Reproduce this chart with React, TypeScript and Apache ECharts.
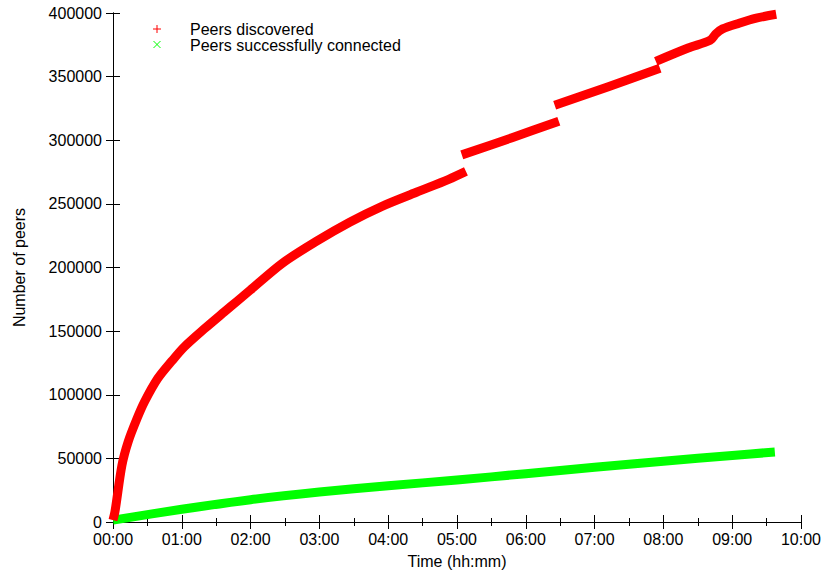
import React, { useEffect, useRef } from "react";
import * as echarts from "echarts";

// Time in hours since start; peers discovered (null entries mark the jumps in the trace)
const discoveredHours = [
  0.0, 0.03, 0.13, 0.22, 0.35, 0.46, 0.65, 0.86, 1.04, 1.33, 1.62, 1.81, 1.99, 2.46, 2.96, 3.44, 3.91, 4.41, 4.88, 5.13,
  5.1,
  5.07, 5.8, 6.48,
  6.45,
  6.42, 7.2, 7.95,
  7.92,
  7.89, 8.36, 8.68, 8.76, 8.86, 9.1, 9.35, 9.64,
];
const discoveredPeers: (number | null)[] = [
  1500, 8600, 44600, 63000, 81400, 94700, 112700, 126800, 137800, 151900, 165200, 173800, 182000, 203300, 220700, 235600, 248100, 259100, 269300, 275500,
  null,
  288500, 302000, 315000,
  null,
  327500, 342000, 356500,
  null,
  362000, 372500, 378500, 383500, 387500, 392000, 396000, 399000,
];

const connectedHours = [0.0, 1, 2, 3, 4, 5, 6, 7, 8, 9, 9.62];
const connectedPeers = [1500, 10000, 17500, 23500, 28500, 33000, 38000, 43000, 47800, 52300, 55000];

const xTickHours = [0, 1, 2, 3, 4, 5, 6, 7, 8, 9, 10];
const yTicks = [0, 50000, 100000, 150000, 200000, 250000, 300000, 350000, 400000];

const seriesNames = ["Peers discovered", "Peers successfully connected"];
const RED = "#ff0000";
const GREEN = "#00ff00";
const FONT = "Liberation Sans, Arial, Helvetica, sans-serif";

const fmtHour = (v: number) => (v < 10 ? "0" : "") + v + ":00";

export default function App() {
  const ref = useRef<HTMLDivElement>(null);
  useEffect(() => {
    if (!ref.current) return;
    const chart = echarts.init(ref.current, undefined, { renderer: "svg" });
    const discovered = discoveredHours.map((h, i) => [h, discoveredPeers[i] === null ? "-" : discoveredPeers[i]]);
    const connected = connectedHours.map((h, i) => [h, connectedPeers[i]]);
    const axisCommon = {
      axisLine: { show: true, lineStyle: { color: "#000", width: 1 } },
      splitLine: { show: false },
    };
    const xMin = xTickHours[0];
    const xMax = xTickHours[xTickHours.length - 1];
    const yMin = yTicks[0];
    const yMax = yTicks[yTicks.length - 1];
    chart.setOption({
      animation: false,
      backgroundColor: "#fff",
      textStyle: { fontFamily: FONT },
      grid: { left: 113, right: 21, top: 13, bottom: 50, containLabel: false },
      xAxis: [
        {
          type: "value",
          min: xMin,
          max: xMax,
          interval: 1,
          position: "bottom",
          ...axisCommon,
          axisTick: { show: true, inside: true, length: 7, lineStyle: { color: "#000" } },
          minorTick: { show: true, splitNumber: 2, length: 4, lineStyle: { color: "#000" } },
          axisLabel: { color: "#000", fontSize: 16, fontFamily: FONT, margin: 9, formatter: fmtHour },
          name: "Time (hh:mm)",
          nameLocation: "middle",
          nameGap: 31,
          nameTextStyle: { color: "#000", fontSize: 16, fontFamily: FONT },
        },
        {
          type: "value",
          min: xMin,
          max: xMax,
          interval: 1,
          position: "top",
          ...axisCommon,
          axisTick: { show: true, inside: true, length: 7, lineStyle: { color: "#000" } },
          minorTick: { show: true, splitNumber: 2, length: 4, lineStyle: { color: "#000" } },
          axisLabel: { show: false },
        },
      ],
      yAxis: [
        {
          type: "value",
          min: yMin,
          max: yMax,
          interval: 50000,
          position: "left",
          ...axisCommon,
          axisTick: { show: true, inside: true, length: 7, lineStyle: { color: "#000" } },
          axisLabel: { color: "#000", fontSize: 16, fontFamily: FONT, margin: 11, formatter: (v: number) => String(v) },
          name: "Number of peers",
          nameLocation: "middle",
          nameGap: 86,
          nameRotate: 90,
          nameTextStyle: { color: "#000", fontSize: 16, fontFamily: FONT },
        },
        {
          type: "value",
          min: yMin,
          max: yMax,
          interval: 50000,
          position: "right",
          ...axisCommon,
          axisTick: { show: true, inside: true, length: 7, lineStyle: { color: "#000" } },
          axisLabel: { show: false },
        },
      ],
      series: [
        {
          name: seriesNames[0],
          type: "line",
          xAxisIndex: 0,
          yAxisIndex: 0,
          data: discovered,
          showSymbol: false,
          symbol: "none",
          connectNulls: false,
          smooth: 0.3,
          lineStyle: { color: RED, width: 9, cap: "butt", join: "round" },
          itemStyle: { color: RED },
          z: 3,
        },
        {
          name: seriesNames[1],
          type: "line",
          xAxisIndex: 0,
          yAxisIndex: 0,
          data: connected,
          showSymbol: false,
          symbol: "none",
          smooth: 0.3,
          lineStyle: { color: GREEN, width: 9, cap: "butt", join: "round" },
          itemStyle: { color: GREEN },
          z: 2,
        },
      ],
      graphic: [
        { type: "line", shape: { x1: 153, y1: 29, x2: 161, y2: 29 }, style: { stroke: RED, lineWidth: 1 } },
        { type: "line", shape: { x1: 157, y1: 25, x2: 157, y2: 33 }, style: { stroke: RED, lineWidth: 1 } },
        { type: "text", x: 190, y: 29, style: { text: seriesNames[0], fill: "#000", font: `16px ${FONT}`, textVerticalAlign: "middle", verticalAlign: "middle" } },
        { type: "line", shape: { x1: 153.5, y1: 41, x2: 160.5, y2: 48 }, style: { stroke: GREEN, lineWidth: 1 } },
        { type: "line", shape: { x1: 160.5, y1: 41, x2: 153.5, y2: 48 }, style: { stroke: GREEN, lineWidth: 1 } },
        { type: "text", x: 190, y: 45, style: { text: seriesNames[1], fill: "#000", font: `16px ${FONT}`, textVerticalAlign: "middle", verticalAlign: "middle" } },
      ],
    });
    return () => chart.dispose();
  }, []);
  return <div ref={ref} style={{ width: 824, height: 574, position: "absolute", left: 0, top: 0 }} />;
}
